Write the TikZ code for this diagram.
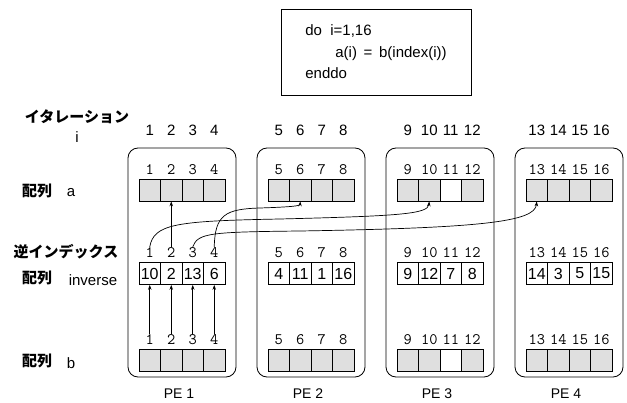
\documentclass[tikz,border=0pt]{standalone}
\usepackage{fontspec}
\setmainfont{Liberation Sans}
\newfontfamily\jpfont{Noto Sans CJK JP}
\usetikzlibrary{arrows.meta, positioning}

\def\invvals{{10,2,13,6,4,11,1,16,9,12,7,8,14,3,5,15}}

\begin{document}
\begin{tikzpicture}[x=1pt, y=-1pt,
  pebox/.style={draw, rounded corners=10pt, minimum width=108pt, minimum height=229pt, line width=0.8pt},
  cell/.style={draw, minimum width=21.5pt, minimum height=22pt, inner sep=0pt, line width=0.7pt},
  acell/.style={cell, fill=gray!25},
  num/.style={font=\fontsize{15}{18}\selectfont},
  idx/.style={font=\ttfamily\fontsize{16}{16}\selectfont, inner sep=1pt},
  invcell/.style={cell, font=\fontsize{16}{18}\selectfont},
  jp/.style={font=\jpfont\bfseries\fontsize{15}{18}\selectfont},
  codebox/.style={draw, line width=0.8pt, minimum width=190pt, minimum height=86pt, align=left, font=\fontsize{15}{21.5}\selectfont},
  arr/.style={-{Stealth[length=5pt, width=3.5pt]}, line width=0.7pt}
]
  \useasboundingbox (0,0) rectangle (627,403);

  % program
  \node[codebox] (code) at (376,52) {do\ \ i=1,16\\\hspace*{30pt}a(i) \,=\, b(index(i))\\enddo};

  % row titles
  \node[jp] (iterlbl) at (77,117) {イタレーション};
  \node[num] (ilbl) at (77,137) {i};
  \node[jp] (arra) at (37,191) {配列};
  \node[num] (alabel) at (71,193) {a};
  \node[jp] (invtitle) at (66,252) {逆インデックス};
  \node[jp] (arrinv) at (37,278) {配列};
  \node[num] (invlabel) at (93,280) {inverse};
  \node[jp] (arrb) at (37,361) {配列};
  \node[num] (blabel) at (71,363) {b};

  % processing elements
  \foreach \k in {1,...,4} {
    \pgfmathsetmacro\pex{128+129*(\k-1)}
    \node[pebox] (pe\k) at (\pex+54,262.5) {};
    \node[num, font=\fontsize{14}{16}\selectfont] (pelbl\k) at (\pex+51,394) {PE \k};
    \foreach \j in {1,...,4} {
      \pgfmathtruncatemacro\i{4*(\k-1)+\j}
      \pgfmathsetmacro\cx{\pex+21.75+21.5*(\j-1)}
      \pgfmathtruncatemacro\v{\invvals[\i-1]}
      \ifnum\i=11 \def\cfill{white}\else \def\cfill{gray!25}\fi
      \node[num] (hd-\i) at (\cx,130) {\i};
      \node[idx] (la-\i) at (\cx,170) {\i};
      \node[acell, fill=\cfill] (a-\i) at (\cx,190) {};
      \node[idx] (linv-\i) at (\cx,253) {\i};
      \node[invcell] (inv-\i) at (\cx,273.5) {\v};
      \node[idx] (lb-\i) at (\cx,340) {\i};
      \node[acell, fill=\cfill] (b-\i) at (\cx,360.5) {};
    }
  }

  % gather b -> inverse on PE 1
  \foreach \j in {1,...,4}
    \draw[arr] (lb-\j.north) -- (inv-\j.south);

  % a(i) = b(index(i)) on PE 1
  \draw[arr] (linv-2.north) -- (a-2.south);
  \draw[arr] (linv-1.north) .. controls (154,224) and (175,221) .. (280,219)
    .. controls (400,216) and (428,214) .. (a-10.south);
  \draw[arr] (linv-3.north) .. controls (198,233) and (210,232) .. (300,231)
    .. controls (480,228) and (535,222) .. (a-13.south);
  \draw[arr] (linv-4.north) .. controls (215,215) and (225,209) .. (260,208)
    .. controls (290,207) and (300,206) .. (a-6.south);
\end{tikzpicture}
\end{document}
